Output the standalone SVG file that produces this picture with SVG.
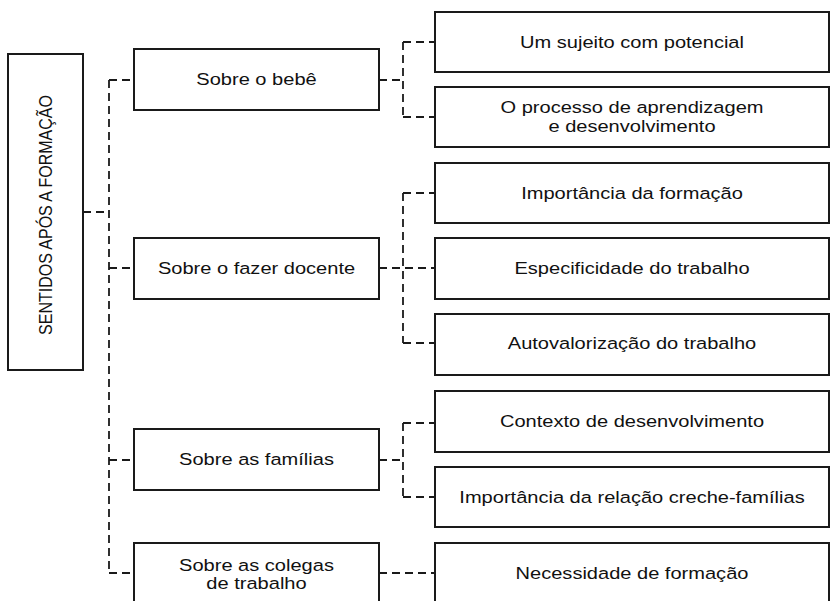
<svg xmlns="http://www.w3.org/2000/svg" width="831" height="601" viewBox="0 0 831 601">
<style>
.box{fill:#fff;stroke:#1a1a1a;stroke-width:2}
.t{font-family:"Liberation Sans",Arial,sans-serif;font-size:17px;fill:#111;text-anchor:middle}
.rt{font-family:"Liberation Sans",Arial,sans-serif;font-size:16px;fill:#111;text-anchor:middle}
.c{fill:none;stroke:#1a1a1a;stroke-width:1.8;stroke-dasharray:8 5}
</style>
<rect width="831" height="601" fill="#fff"/>
<g id="connectors">
<path class="c" d="M83 212H109"/>
<path class="c" d="M109 80V573"/>
<path class="c" d="M109 80H134M109 268H134M109 460H134M109 573H134"/>
<path class="c" d="M379 80H403"/>
<path class="c" d="M403 42V117"/>
<path class="c" d="M403 42H435M403 117H435"/>
<path class="c" d="M379 268H435"/>
<path class="c" d="M403 193V343"/>
<path class="c" d="M403 193H435M403 343H435"/>
<path class="c" d="M379 460H403"/>
<path class="c" d="M403 423V497"/>
<path class="c" d="M403 423H435M403 497H435"/>
<path class="c" d="M379 573H435"/>
</g>
<g id="root">
<rect class="box" x="8" y="54" width="75" height="316"/>
<text class="rt" transform="translate(52 215) scale(1.18 1) rotate(-90)">SENTIDOS APÓS A FORMAÇÃO</text>
</g>
<g id="bebe">
<rect class="box" x="134" y="49" width="245" height="61"/>
<text class="t" transform="translate(256.5 85) scale(1.18 1)">Sobre o bebê</text>
</g>
<g id="fazer">
<rect class="box" x="134" y="238" width="245" height="61"/>
<text class="t" transform="translate(256.5 274) scale(1.18 1)">Sobre o fazer docente</text>
</g>
<g id="familias">
<rect class="box" x="134" y="429" width="245" height="61"/>
<text class="t" transform="translate(256.5 465) scale(1.18 1)">Sobre as famílias</text>
</g>
<g id="colegas">
<rect class="box" x="134" y="543" width="245" height="61"/>
<text class="t" transform="translate(256.5 571) scale(1.18 1)"><tspan x="0" y="0">Sobre as colegas</tspan><tspan x="0" y="18">de trabalho</tspan></text>
</g>
<g id="sujeito">
<rect class="box" x="435" y="12" width="394" height="60"/>
<text class="t" transform="translate(632 48) scale(1.18 1)">Um sujeito com potencial</text>
</g>
<g id="processo">
<rect class="box" x="435" y="87" width="394" height="60"/>
<text class="t" transform="translate(632 113) scale(1.18 1)"><tspan x="0" y="0">O processo de aprendizagem</tspan><tspan x="0" y="19">e desenvolvimento</tspan></text>
</g>
<g id="importancia-formacao">
<rect class="box" x="435" y="163" width="394" height="60"/>
<text class="t" transform="translate(632 199) scale(1.18 1)">Importância da formação</text>
</g>
<g id="especificidade">
<rect class="box" x="435" y="238" width="394" height="61"/>
<text class="t" transform="translate(632 274) scale(1.18 1)">Especificidade do trabalho</text>
</g>
<g id="autovalorizacao">
<rect class="box" x="435" y="314" width="394" height="61"/>
<text class="t" transform="translate(632 349) scale(1.18 1)">Autovalorização do trabalho</text>
</g>
<g id="contexto">
<rect class="box" x="435" y="391" width="394" height="61"/>
<text class="t" transform="translate(632 427) scale(1.18 1)">Contexto de desenvolvimento</text>
</g>
<g id="relacao">
<rect class="box" x="435" y="467" width="394" height="60"/>
<text class="t" transform="translate(632 503) scale(1.18 1)">Importância da relação creche-famílias</text>
</g>
<g id="necessidade">
<rect class="box" x="435" y="543" width="394" height="61"/>
<text class="t" transform="translate(632 579) scale(1.18 1)">Necessidade de formação</text>
</g>
</svg>
